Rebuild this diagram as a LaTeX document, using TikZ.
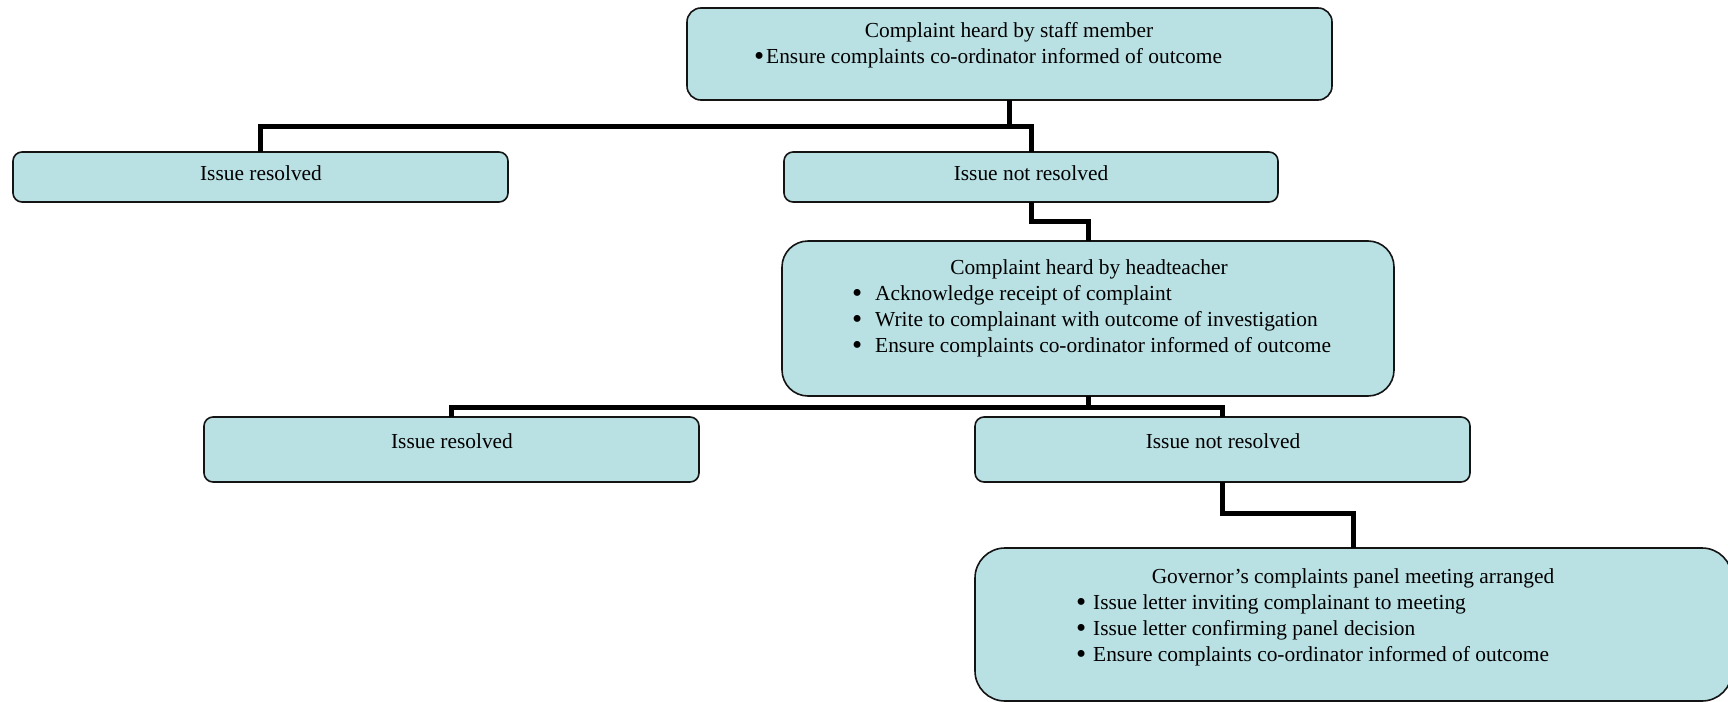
\documentclass[tikz,border=0pt]{standalone}
\usepackage{fontspec}
\usepackage{graphicx}
\setmainfont{Liberation Serif}
\definecolor{boxfill}{RGB}{185,224,227}
\definecolor{boxline}{RGB}{20,20,20}
\newcommand{\bigbul}{\raisebox{-1.8pt}{\scalebox{1.35}{\textbullet}}}
\begin{document}
\begin{tikzpicture}[x=1pt,y=-1pt,
  box/.style={draw=boxline, line width=1.6pt, fill=boxfill, rounded corners=#1,
    inner sep=0pt, outer sep=0pt, anchor=north west},
  box/.default=9pt,
  link/.style={draw=black, line width=5pt},
  txt/.style={font=\fontsize{21.4}{25}\selectfont, inner sep=0pt, anchor=mid},
  item/.style={txt, anchor=mid west}]
\useasboundingbox (0,0) rectangle (1728,701);
\begin{scope}
\clip (0,0) rectangle (1728,701);
% boxes
\node[box=14pt, minimum width=645pt, minimum height=92pt] (A) at (687,8) {};
\node[box, minimum width=495pt, minimum height=50pt] (B) at (13,152) {};
\node[box, minimum width=494pt, minimum height=50pt] (C) at (784,152) {};
\node[box=26pt, minimum width=612pt, minimum height=155pt] (D) at (782,241) {};
\node[box, minimum width=495pt, minimum height=65pt] (E) at (204,417) {};
\node[box, minimum width=495pt, minimum height=65pt] (F) at (975,417) {};
\node[box=30pt, minimum width=757pt, minimum height=153pt] (G) at (975,548) {};
\end{scope}
% connectors
\draw[link] (A.south) -- ++(0,26) -| (B.north);
\draw[link] (A.south) ++(0,26) -| (C.north);
\draw[link] (C.south) -- ++(0,19) -| (D.north);
\draw[link] (D.south) -- ++(0,11) -| (E.north);
\draw[link] (D.south) ++(0,11) -| (F.north);
\draw[link] (F.south) -- ++(0,31) -| (G.north);
% texts
\node[txt] (a0) at (1009,35.5) {Complaint heard by staff member};
\node[item] (a1) at (754,61.5) {\makebox[12pt][l]{\bigbul}Ensure complaints co-ordinator informed of outcome};
\node[txt] (b0) at (261,178.5) {Issue resolved};
\node[txt] (c0) at (1031,178.5) {Issue not resolved};
\node[txt] (d0) at (1089,272.5) {Complaint heard by headteacher};
\node[item] (d1) at (852,298.5) {\makebox[23pt][l]{\bigbul}Acknowledge receipt of complaint};
\node[item] (d2) at (852,324.5) {\makebox[23pt][l]{\bigbul}Write to complainant with outcome of investigation};
\node[item] (d3) at (852,350.5) {\makebox[23pt][l]{\bigbul}Ensure complaints co-ordinator informed of outcome};
\node[txt] (e0) at (452,446.5) {Issue resolved};
\node[txt] (f0) at (1223,446.5) {Issue not resolved};
\node[txt] (g0) at (1353,581.5) {Governor’s complaints panel meeting arranged};
\node[item] (g1) at (1076,607.5) {\makebox[17pt][l]{\bigbul}Issue letter inviting complainant to meeting};
\node[item] (g2) at (1076,633.5) {\makebox[17pt][l]{\bigbul}Issue letter confirming panel decision};
\node[item] (g3) at (1076,659.5) {\makebox[17pt][l]{\bigbul}Ensure complaints co-ordinator informed of outcome};
\end{tikzpicture}
\end{document}
